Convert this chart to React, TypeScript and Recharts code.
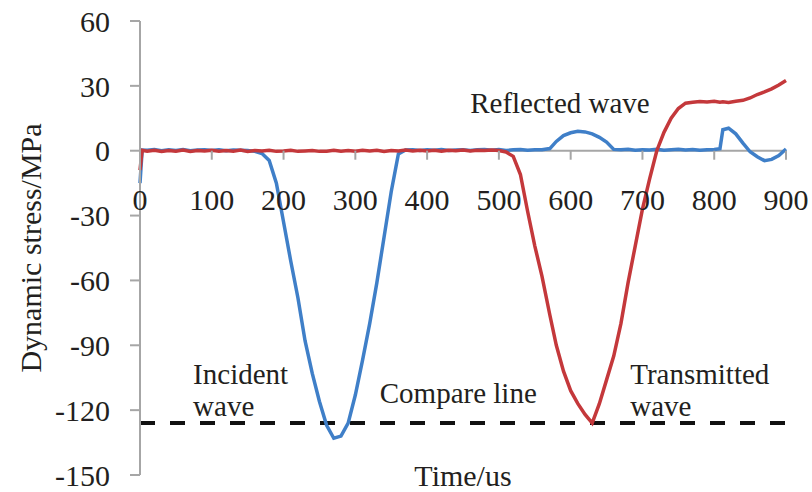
import { LineChart, Line, XAxis, YAxis, ReferenceLine, ReferenceDot } from "recharts"

// Sample times in microseconds (extra points where the signal jumps)
const time = [
    0, 3, 10, 20, 30, 40, 50, 60, 70, 80, 90,
    100, 110, 120, 130, 140, 150, 160, 170, 180, 190,
    200, 210, 220, 230, 240, 250, 260, 270, 280, 290,
    300, 310, 320, 330, 340, 350, 360, 370, 380, 390,
    400, 410, 420, 430, 440, 450, 460, 470, 480, 490,
    500, 510, 520, 530, 540, 550, 560, 571, 580, 590,
    600, 610, 620, 630, 640, 650, 660, 670, 680, 690,
    700, 710, 720, 730, 740, 750, 760, 770, 780, 790,
    800, 808, 812, 820, 830, 840, 850, 860, 870, 880,
    890, 900
]

// Input bar gauge: incident pulse followed by the reflected wave
const incident = [
    -15, 0.3, 0.2, 0.5, 0, 0.4, 0.1, 0.5, 0, 0.3, 0.5,
    0.1, 0.4, 0, 0.3, 0.2, 0.1, -0.3, -1.3, -4.5, -15,
    -33, -51, -68, -88, -103, -116, -127, -133, -132, -126,
    -113, -97, -80, -61, -40, -19, -1.5, 0.3, 0.5, 0.1,
    0.4, 0.2, 0.5, 0.1, 0.3, 0.5, 0.1, 0.4, 0.6, 0.2,
    0.5, 0.1, 0.4, 0.6, 0.2, 0.5, 0.4, 1, 4.3, 7,
    8.3, 9, 8.7, 7.8, 6.2, 4, 0.6, 0.4, 0.7, 0.2,
    0.5, 0.3, 0.7, 0.2, 0.5, 0.7, 0.3, 0.6, 0.2, 0.5,
    0.6, 0.9, 9.7, 10.4, 7.8, 3.5, -0.5, -2.8, -4.6, -4,
    -2.2, 0.8
]

// Output bar gauge: transmitted wave
const transmitted = [
    -9, 0.2, -0.2, 0.2, -0.3, 0.1, -0.2, 0.3, -0.3, 0.1, -0.1,
    0.2, -0.2, 0.1, -0.2, 0.3, -0.3, 0.1, -0.1, 0.2, -0.3,
    -0.1, 0.2, -0.3, -0.1, 0.1, -0.3, -0.2, 0.2, -0.2, 0.1,
    -0.2, 0.2, -0.1, 0.2, -0.3, 0.1, -0.1, 0.3, -0.1, 0.2,
    -0.1, 0.2, -0.2, 0.2, 0, 0.3, -0.1, 0.2, 0.1, 0.3,
    0.1, -0.6, -2.6, -11, -28, -44, -58, -76, -90, -102,
    -111, -117, -122, -126, -117, -106, -95, -80, -61, -44,
    -27, -13, 0, 8.5, 15, 19.5, 22, 22.4, 22.8, 22.5,
    22.9, 22.4, 22.6, 22.3, 22.9, 23.3, 24.4, 26, 27.2, 28.6,
    30.4, 32.5
]

const xTicks = [0, 100, 200, 300, 400, 500, 600, 700, 800, 900]
const yTicks = [60, 30, 0, -30, -60, -90, -120, -150]
const compareLevel = -126

const data = time.map((t, i) => ({ t, incident: incident[i], transmitted: transmitted[i] }))

const FONT = '"Liberation Serif", "Times New Roman", serif'
const INK = "#231f20"
const AXIS = "#a6a6a6"
const BLUE = "#3f7fc8"
const RED = "#c4383b"

// x axis sits on the zero line, so ticks are drawn at (t, 0)
const xTickShape = (value: number) => (p: any) => (
    <g>
        <line x1={p.cx} y1={p.cy} x2={p.cx} y2={p.cy + 9} stroke={AXIS} strokeWidth={2} />
        <text x={p.cx} y={p.cy + 59} textAnchor="middle" fill={INK} fontSize={30} fontFamily={FONT}>
            {value}
        </text>
    </g>
)

const note = (text: string) => (p: any) => (
    <text x={p.cx} y={p.cy} fill={INK} fontSize={29} fontFamily={FONT}>
        {text}
    </text>
)

export default function App() {
    return (
        <div style={{ position: "absolute", left: 0, top: 0, background: "#fff" }}>
            <LineChart width={812} height={492} data={data} margin={{ top: 21, right: 26, bottom: 0, left: 0 }}>
                <XAxis
                    type="number"
                    dataKey="t"
                    domain={[0, 900]}
                    ticks={xTicks}
                    height={17}
                    axisLine={false}
                    tickLine={false}
                    tick={false}
                    label={(props: any) => {
                        const vb = props.viewBox || { x: 140, y: 475, width: 646 }
                        return (
                            <text x={vb.x + vb.width / 2} y={vb.y + 11} textAnchor="middle" fill={INK} fontSize={30} fontFamily={FONT}>
                                Time/us
                            </text>
                        )
                    }}
                />
                <YAxis
                    type="number"
                    domain={[-150, 60]}
                    ticks={yTicks}
                    interval={0}
                    width={140}
                    tickSize={10}
                    tickMargin={20}
                    axisLine={{ stroke: AXIS, strokeWidth: 2 }}
                    tickLine={{ stroke: AXIS, strokeWidth: 2 }}
                    tick={{ fill: INK, fontSize: 30, fontFamily: FONT }}
                    label={(props: any) => {
                        const vb = props.viewBox || { x: 0, y: 21, height: 454 }
                        const cx = vb.x + 30
                        const cy = vb.y + vb.height / 2
                        return (
                            <text
                                x={cx}
                                y={cy}
                                transform={`rotate(-90 ${cx} ${cy})`}
                                textAnchor="middle"
                                dominantBaseline="central"
                                fill={INK}
                                fontSize={30}
                                fontFamily={FONT}
                            >
                                Dynamic stress/MPa
                            </text>
                        )
                    }}
                />

                <ReferenceLine y={0} stroke={AXIS} strokeWidth={2} />
                {xTicks.map(v => (
                    <ReferenceDot key={v} x={v} y={0} r={0} shape={xTickShape(v)} />
                ))}
                <ReferenceLine y={compareLevel} stroke="#111" strokeWidth={4} strokeDasharray="15 15" />

                <Line type="linear" dataKey="incident" stroke={BLUE} strokeWidth={3.5} dot={false} isAnimationActive={false} />
                <Line type="linear" dataKey="transmitted" stroke={RED} strokeWidth={3.5} dot={false} isAnimationActive={false} />

                {/* wave annotations */}
                <ReferenceDot x={460} y={17.6} r={0} shape={note("Reflected wave")} />
                <ReferenceDot x={74} y={-107.8} r={0} shape={note("Incident")} />
                <ReferenceDot x={74} y={-122.5} r={0} shape={note("wave")} />
                <ReferenceDot x={334} y={-116.5} r={0} shape={note("Compare line")} />
                <ReferenceDot x={683} y={-107.8} r={0} shape={note("Transmitted")} />
                <ReferenceDot x={683} y={-122.5} r={0} shape={note("wave")} />
            </LineChart>
        </div>
    )
}
